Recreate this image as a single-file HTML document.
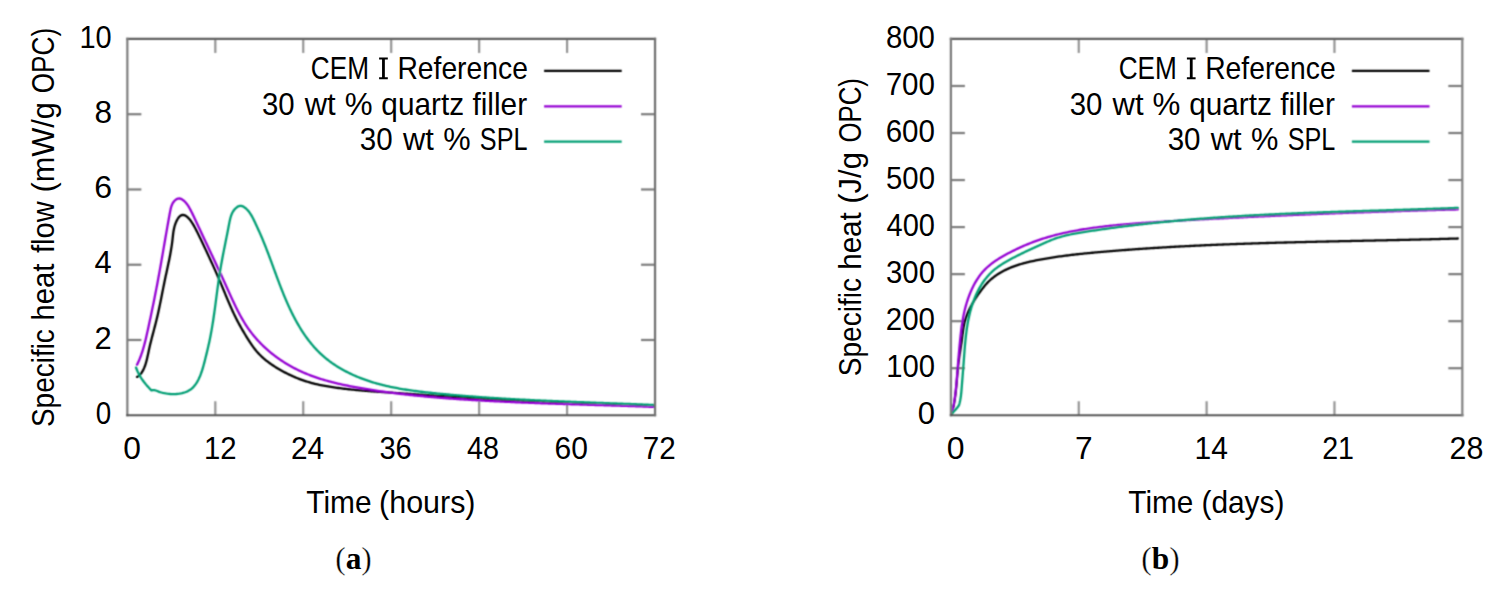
<!DOCTYPE html>
<html><head><meta charset="utf-8"><style>
html,body{margin:0;padding:0;background:#fff;width:1500px;height:602px;overflow:hidden}
svg{display:block}
text{font-family:"Liberation Sans",sans-serif;fill:#000}
.tk{stroke:#949494;stroke-width:2.2}
.bx{fill:none;stroke:#606060;stroke-width:1.8}
.cv{fill:none;stroke-width:2.3;stroke-linejoin:round;stroke-linecap:round}
.lg{stroke-width:2.2}
.cap{font-family:"Liberation Serif",serif;font-size:31.4px}
.pr{stroke:#fff;stroke-width:0.35px}
</style></head><body>
<svg width="1500" height="602" viewBox="0 0 1500 602">
<defs><filter id="bl" filterUnits="userSpaceOnUse" x="0" y="0" width="1500" height="602"><feConvolveMatrix order="3" kernelMatrix="0.0439 0.1217 0.0439 0.1217 0.3377 0.1217 0.0439 0.1217 0.0439" edgeMode="none"/></filter></defs>
<g filter="url(#bl)">
<line x1="215.31" y1="415.25" x2="215.31" y2="401.25" class="tk"/>
<line x1="215.31" y1="38.95" x2="215.31" y2="52.95" class="tk"/>
<line x1="303.25" y1="415.25" x2="303.25" y2="401.25" class="tk"/>
<line x1="303.25" y1="38.95" x2="303.25" y2="52.95" class="tk"/>
<line x1="391.19" y1="415.25" x2="391.19" y2="401.25" class="tk"/>
<line x1="391.19" y1="38.95" x2="391.19" y2="52.95" class="tk"/>
<line x1="479.14" y1="415.25" x2="479.14" y2="401.25" class="tk"/>
<line x1="479.14" y1="38.95" x2="479.14" y2="52.95" class="tk"/>
<line x1="567.08" y1="415.25" x2="567.08" y2="401.25" class="tk"/>
<line x1="567.08" y1="38.95" x2="567.08" y2="52.95" class="tk"/>
<line x1="127.36" y1="339.99" x2="141.36" y2="339.99" class="tk" stroke="#7d7d7d" style="stroke:#7d7d7d"/>
<line x1="655.03" y1="339.99" x2="641.03" y2="339.99" class="tk" style="stroke:#7d7d7d"/>
<line x1="127.36" y1="264.73" x2="141.36" y2="264.73" class="tk" stroke="#7d7d7d" style="stroke:#7d7d7d"/>
<line x1="655.03" y1="264.73" x2="641.03" y2="264.73" class="tk" style="stroke:#7d7d7d"/>
<line x1="127.36" y1="189.47" x2="141.36" y2="189.47" class="tk" stroke="#7d7d7d" style="stroke:#7d7d7d"/>
<line x1="655.03" y1="189.47" x2="641.03" y2="189.47" class="tk" style="stroke:#7d7d7d"/>
<line x1="127.36" y1="114.21" x2="141.36" y2="114.21" class="tk" stroke="#7d7d7d" style="stroke:#7d7d7d"/>
<line x1="655.03" y1="114.21" x2="641.03" y2="114.21" class="tk" style="stroke:#7d7d7d"/>
<path d="M137.00,376.90 L138.31,376.16 L139.49,375.23 L140.54,374.15 L141.46,372.96 L142.27,371.70 L143.00,370.38 L143.66,369.02 L144.26,367.65 L144.82,366.25 L145.32,364.83 L145.79,363.40 L146.21,361.95 L146.60,360.50 L146.97,359.04 L147.31,357.57 L147.63,356.10 L147.95,354.63 L148.26,353.16 L148.56,351.68 L148.87,350.21 L149.19,348.74 L149.53,347.27 L149.87,345.80 L150.22,344.34 L150.57,342.88 L150.94,341.42 L151.31,339.96 L151.68,338.50 L152.06,337.04 L152.44,335.59 L152.83,334.13 L153.21,332.68 L153.60,331.22 L153.99,329.77 L154.37,328.31 L154.75,326.86 L155.13,325.40 L155.51,323.94 L155.88,322.48 L156.25,321.02 L156.61,319.56 L156.96,318.10 L157.30,316.63 L157.64,315.17 L157.98,313.70 L158.30,312.23 L158.63,310.76 L158.94,309.29 L159.26,307.81 L159.57,306.34 L159.87,304.87 L160.17,303.39 L160.47,301.92 L160.77,300.44 L161.07,298.97 L161.36,297.49 L161.66,296.01 L161.95,294.54 L162.24,293.06 L162.53,291.58 L162.83,290.11 L163.12,288.63 L163.41,287.15 L163.71,285.68 L164.01,284.20 L164.31,282.73 L164.61,281.25 L164.92,279.78 L165.23,278.31 L165.54,276.83 L165.86,275.36 L166.18,273.89 L166.50,272.42 L166.82,270.95 L167.13,269.48 L167.45,268.00 L167.77,266.53 L168.08,265.06 L168.39,263.59 L168.70,262.11 L169.01,260.64 L169.31,259.17 L169.60,257.69 L169.89,256.21 L170.17,254.73 L170.44,253.25 L170.71,251.77 L170.97,250.29 L171.21,248.80 L171.45,247.32 L171.68,245.83 L171.90,244.34 L172.10,242.85 L172.29,241.35 L172.47,239.86 L172.63,238.36 L172.80,236.87 L172.96,235.37 L173.14,233.88 L173.34,232.38 L173.57,230.90 L173.85,229.42 L174.16,227.94 L174.53,226.48 L174.96,225.04 L175.45,223.62 L176.01,222.22 L176.64,220.85 L177.34,219.52 L178.13,218.24 L179.04,217.04 L180.10,215.97 L181.36,215.17 L182.82,214.84 L184.29,215.12 L185.64,215.78 L186.87,216.65 L188.00,217.65 L189.04,218.73 L190.02,219.87 L190.94,221.06 L191.80,222.30 L192.62,223.56 L193.39,224.86 L194.12,226.17 L194.84,227.49 L195.54,228.83 L196.24,230.16 L196.92,231.50 L197.61,232.84 L198.28,234.19 L198.95,235.54 L199.62,236.89 L200.27,238.24 L200.93,239.59 L201.58,240.95 L202.23,242.31 L202.87,243.67 L203.52,245.03 L204.16,246.40 L204.79,247.76 L205.43,249.12 L206.07,250.49 L206.71,251.85 L207.34,253.21 L207.98,254.58 L208.61,255.94 L209.25,257.31 L209.88,258.67 L210.51,260.04 L211.14,261.41 L211.77,262.78 L212.39,264.15 L213.02,265.52 L213.64,266.89 L214.26,268.26 L214.87,269.63 L215.48,271.01 L216.10,272.39 L216.70,273.76 L217.31,275.14 L217.91,276.52 L218.51,277.90 L219.10,279.29 L219.69,280.67 L220.28,282.06 L220.86,283.45 L221.44,284.83 L222.02,286.22 L222.60,287.61 L223.17,289.00 L223.75,290.40 L224.32,291.79 L224.90,293.18 L225.47,294.57 L226.05,295.96 L226.63,297.35 L227.21,298.74 L227.80,300.12 L228.39,301.51 L228.98,302.89 L229.58,304.27 L230.18,305.65 L230.79,307.03 L231.40,308.41 L232.02,309.78 L232.65,311.15 L233.28,312.51 L233.92,313.87 L234.57,315.23 L235.23,316.59 L235.90,317.94 L236.57,319.28 L237.26,320.62 L237.96,321.95 L238.67,323.28 L239.39,324.60 L240.11,325.92 L240.85,327.24 L241.59,328.54 L242.34,329.85 L243.10,331.15 L243.87,332.45 L244.64,333.74 L245.41,335.03 L246.20,336.31 L246.98,337.60 L247.78,338.88 L248.58,340.15 L249.39,341.42 L250.21,342.68 L251.05,343.93 L251.91,345.17 L252.78,346.40 L253.67,347.61 L254.58,348.81 L255.52,349.98 L256.48,351.14 L257.47,352.28 L258.48,353.39 L259.52,354.48 L260.59,355.54 L261.67,356.58 L262.78,357.60 L263.91,358.60 L265.06,359.57 L266.23,360.52 L267.41,361.45 L268.61,362.36 L269.83,363.25 L271.06,364.12 L272.30,364.97 L273.55,365.81 L274.81,366.62 L276.09,367.42 L277.37,368.21 L278.67,368.98 L279.97,369.74 L281.28,370.48 L282.59,371.21 L283.92,371.92 L285.25,372.62 L286.59,373.31 L287.94,373.98 L289.29,374.64 L290.65,375.28 L292.02,375.91 L293.40,376.52 L294.78,377.12 L296.17,377.70 L297.56,378.26 L298.96,378.81 L300.37,379.35 L301.79,379.86 L303.21,380.37 L304.63,380.85 L306.06,381.32 L307.50,381.77 L308.94,382.20 L310.39,382.62 L311.84,383.02 L313.29,383.40 L314.75,383.77 L316.22,384.12 L317.68,384.46 L319.15,384.79 L320.63,385.10 L322.10,385.39 L323.58,385.68 L325.06,385.95 L326.54,386.22 L328.03,386.47 L329.51,386.71 L331.00,386.95 L332.49,387.17 L333.98,387.39 L335.47,387.60 L336.96,387.80 L338.45,388.00 L339.94,388.19 L341.44,388.38 L342.93,388.56 L344.43,388.74 L345.92,388.91 L347.42,389.08 L348.91,389.25 L350.41,389.41 L351.91,389.56 L353.41,389.72 L354.90,389.86 L356.40,390.01 L357.90,390.15 L359.40,390.29 L360.90,390.43 L362.40,390.56 L363.90,390.69 L365.40,390.81 L366.90,390.94 L368.40,391.06 L369.90,391.18 L371.40,391.30 L372.90,391.41 L374.40,391.52 L375.90,391.63 L377.41,391.74 L378.91,391.85 L380.41,391.96 L381.91,392.06 L383.41,392.16 L384.91,392.27 L386.42,392.37 L387.92,392.47 L389.42,392.57 L390.92,392.67 L392.42,392.77 L393.93,392.86 L395.43,392.96 L396.93,393.06 L398.43,393.16 L399.93,393.26 L401.44,393.36 L402.94,393.46 L404.44,393.56 L405.94,393.66 L407.44,393.76 L408.95,393.86 L410.45,393.96 L411.95,394.06 L413.45,394.16 L414.95,394.26 L416.46,394.36 L417.96,394.46 L419.46,394.57 L420.96,394.67 L422.46,394.77 L423.97,394.87 L425.47,394.97 L426.97,395.08 L428.47,395.18 L429.97,395.28 L431.48,395.38 L432.98,395.48 L434.48,395.58 L435.98,395.68 L437.48,395.79 L438.99,395.89 L440.49,395.99 L441.99,396.09 L443.49,396.19 L444.99,396.29 L446.50,396.39 L448.00,396.49 L449.50,396.59 L451.00,396.69 L452.50,396.78 L454.01,396.88 L455.51,396.98 L457.01,397.08 L458.51,397.17 L460.01,397.27 L461.52,397.37 L463.02,397.46 L464.52,397.56 L466.02,397.65 L467.53,397.74 L469.03,397.84 L470.53,397.93 L472.03,398.02 L473.54,398.11 L475.04,398.20 L476.54,398.29 L478.04,398.38 L479.55,398.47 L481.05,398.56 L482.55,398.65 L484.06,398.74 L485.56,398.83 L487.06,398.91 L488.56,399.00 L490.07,399.08 L491.57,399.17 L493.07,399.26 L494.58,399.34 L496.08,399.42 L497.58,399.51 L499.09,399.59 L500.59,399.67 L502.09,399.75 L503.59,399.84 L505.10,399.92 L506.60,400.00 L508.10,400.08 L509.61,400.16 L511.11,400.24 L512.61,400.32 L514.12,400.39 L515.62,400.47 L517.12,400.55 L518.63,400.63 L520.13,400.70 L521.63,400.78 L523.14,400.86 L524.64,400.93 L526.14,401.01 L527.65,401.08 L529.15,401.15 L530.66,401.23 L532.16,401.30 L533.66,401.37 L535.17,401.44 L536.67,401.52 L538.17,401.59 L539.68,401.66 L541.18,401.73 L542.68,401.80 L544.19,401.87 L545.69,401.94 L547.20,402.01 L548.70,402.08 L550.20,402.14 L551.71,402.21 L553.21,402.28 L554.71,402.35 L556.22,402.41 L557.72,402.48 L559.23,402.54 L560.73,402.61 L562.23,402.67 L563.74,402.74 L565.24,402.80 L566.75,402.87 L568.25,402.93 L569.75,402.99 L571.26,403.06 L572.76,403.12 L574.27,403.18 L575.77,403.24 L577.27,403.30 L578.78,403.36 L580.28,403.42 L581.79,403.48 L583.29,403.54 L584.80,403.60 L586.30,403.66 L587.80,403.72 L589.31,403.78 L590.81,403.84 L592.32,403.90 L593.82,403.95 L595.33,404.01 L596.83,404.07 L598.33,404.12 L599.84,404.18 L601.34,404.23 L602.85,404.29 L604.35,404.35 L605.86,404.40 L607.36,404.45 L608.86,404.51 L610.37,404.56 L611.87,404.62 L613.38,404.67 L614.88,404.72 L616.39,404.78 L617.89,404.83 L619.40,404.88 L620.90,404.93 L622.40,404.98 L623.91,405.03 L625.41,405.08 L626.92,405.14 L628.42,405.19 L629.93,405.24 L631.43,405.29 L632.94,405.33 L634.44,405.38 L635.94,405.43 L637.45,405.48 L638.95,405.53 L640.46,405.58 L641.96,405.63 L643.47,405.67 L644.97,405.72 L646.48,405.77 L647.98,405.82 L649.49,405.86 L650.99,405.91 L652.50,405.95 L654.00,406.00" stroke="#000000" class="cv"/>
<path d="M137.00,364.80 L137.66,363.45 L138.30,362.08 L138.91,360.71 L139.49,359.32 L140.06,357.92 L140.60,356.52 L141.12,355.11 L141.61,353.69 L142.09,352.26 L142.56,350.83 L143.00,349.39 L143.43,347.95 L143.84,346.50 L144.24,345.05 L144.63,343.59 L145.00,342.14 L145.36,340.68 L145.72,339.21 L146.07,337.75 L146.41,336.28 L146.74,334.81 L147.07,333.35 L147.39,331.88 L147.71,330.41 L148.04,328.94 L148.36,327.46 L148.68,325.99 L148.99,324.52 L149.31,323.05 L149.63,321.58 L149.94,320.11 L150.26,318.64 L150.57,317.16 L150.88,315.69 L151.19,314.22 L151.50,312.75 L151.81,311.27 L152.11,309.80 L152.42,308.32 L152.72,306.85 L153.03,305.38 L153.33,303.90 L153.63,302.43 L153.93,300.95 L154.23,299.48 L154.52,298.00 L154.82,296.52 L155.11,295.05 L155.40,293.57 L155.69,292.09 L155.98,290.62 L156.27,289.14 L156.55,287.66 L156.84,286.18 L157.12,284.71 L157.40,283.23 L157.68,281.75 L157.95,280.27 L158.23,278.79 L158.50,277.31 L158.78,275.83 L159.05,274.35 L159.31,272.87 L159.58,271.39 L159.85,269.90 L160.11,268.42 L160.38,266.94 L160.64,265.46 L160.90,263.98 L161.16,262.49 L161.42,261.01 L161.68,259.53 L161.94,258.05 L162.20,256.56 L162.46,255.08 L162.71,253.60 L162.97,252.11 L163.22,250.63 L163.48,249.15 L163.74,247.66 L163.99,246.18 L164.25,244.70 L164.50,243.21 L164.76,241.73 L165.02,240.25 L165.27,238.76 L165.53,237.28 L165.79,235.80 L166.04,234.32 L166.30,232.83 L166.56,231.35 L166.82,229.87 L167.08,228.39 L167.34,226.90 L167.60,225.42 L167.87,223.94 L168.13,222.46 L168.40,220.98 L168.67,219.49 L168.93,218.01 L169.20,216.53 L169.48,215.05 L169.75,213.57 L170.02,212.09 L170.30,210.61 L170.61,209.14 L170.96,207.68 L171.40,206.24 L171.94,204.83 L172.60,203.48 L173.40,202.20 L174.32,201.02 L175.39,199.96 L176.62,199.09 L178.02,198.54 L179.51,198.48 L180.96,198.89 L182.29,199.59 L183.51,200.47 L184.63,201.47 L185.68,202.55 L186.65,203.70 L187.54,204.91 L188.37,206.17 L189.14,207.46 L189.88,208.77 L190.59,210.10 L191.28,211.44 L191.96,212.78 L192.62,214.13 L193.27,215.49 L193.91,216.85 L194.55,218.21 L195.19,219.58 L195.83,220.94 L196.47,222.30 L197.11,223.67 L197.75,225.03 L198.39,226.39 L199.03,227.75 L199.67,229.11 L200.31,230.48 L200.95,231.84 L201.59,233.20 L202.23,234.56 L202.88,235.92 L203.52,237.28 L204.16,238.64 L204.80,240.01 L205.44,241.37 L206.09,242.73 L206.73,244.09 L207.37,245.45 L208.01,246.81 L208.65,248.17 L209.29,249.54 L209.94,250.90 L210.58,252.26 L211.22,253.62 L211.86,254.98 L212.50,256.35 L213.13,257.71 L213.77,259.07 L214.41,260.44 L215.05,261.80 L215.68,263.16 L216.32,264.53 L216.96,265.89 L217.59,267.26 L218.22,268.62 L218.86,269.99 L219.49,271.35 L220.12,272.72 L220.75,274.09 L221.38,275.45 L222.01,276.82 L222.63,278.19 L223.26,279.56 L223.88,280.93 L224.51,282.30 L225.13,283.67 L225.75,285.04 L226.37,286.41 L226.99,287.78 L227.61,289.16 L228.23,290.53 L228.84,291.90 L229.46,293.27 L230.08,294.64 L230.70,296.02 L231.33,297.38 L231.96,298.75 L232.59,300.12 L233.23,301.48 L233.87,302.84 L234.51,304.20 L235.17,305.56 L235.83,306.91 L236.49,308.26 L237.17,309.61 L237.85,310.95 L238.54,312.29 L239.24,313.62 L239.96,314.94 L240.68,316.26 L241.41,317.58 L242.16,318.88 L242.92,320.18 L243.69,321.48 L244.47,322.76 L245.27,324.04 L246.09,325.30 L246.92,326.56 L247.76,327.81 L248.62,329.04 L249.50,330.26 L250.39,331.48 L251.30,332.68 L252.22,333.86 L253.16,335.04 L254.12,336.20 L255.09,337.35 L256.07,338.49 L257.07,339.61 L258.09,340.73 L259.12,341.83 L260.16,342.91 L261.21,343.99 L262.28,345.05 L263.36,346.09 L264.46,347.13 L265.56,348.15 L266.68,349.16 L267.81,350.15 L268.95,351.13 L270.10,352.10 L271.27,353.05 L272.44,354.00 L273.63,354.92 L274.82,355.84 L276.03,356.74 L277.24,357.63 L278.47,358.50 L279.70,359.36 L280.95,360.21 L282.20,361.04 L283.47,361.86 L284.74,362.66 L286.02,363.45 L287.31,364.23 L288.60,365.00 L289.91,365.75 L291.22,366.48 L292.54,367.21 L293.87,367.91 L295.20,368.61 L296.55,369.29 L297.90,369.95 L299.25,370.61 L300.62,371.24 L301.99,371.87 L303.36,372.48 L304.74,373.07 L306.13,373.66 L307.53,374.23 L308.92,374.78 L310.33,375.33 L311.74,375.86 L313.15,376.37 L314.57,376.88 L315.99,377.37 L317.42,377.86 L318.84,378.33 L320.28,378.79 L321.71,379.23 L323.15,379.67 L324.60,380.10 L326.04,380.52 L327.49,380.92 L328.94,381.32 L330.40,381.71 L331.85,382.09 L333.31,382.46 L334.77,382.82 L336.24,383.18 L337.70,383.53 L339.17,383.86 L340.64,384.20 L342.11,384.52 L343.58,384.84 L345.05,385.15 L346.52,385.46 L348.00,385.75 L349.48,386.05 L350.95,386.34 L352.43,386.62 L353.91,386.90 L355.39,387.17 L356.87,387.44 L358.35,387.71 L359.83,387.97 L361.32,388.23 L362.80,388.48 L364.28,388.73 L365.77,388.98 L367.25,389.23 L368.74,389.47 L370.23,389.71 L371.71,389.94 L373.20,390.17 L374.69,390.40 L376.18,390.63 L377.66,390.85 L379.15,391.07 L380.64,391.28 L382.13,391.50 L383.62,391.71 L385.11,391.91 L386.61,392.12 L388.10,392.32 L389.59,392.52 L391.08,392.71 L392.57,392.91 L394.07,393.10 L395.56,393.28 L397.05,393.47 L398.55,393.65 L400.04,393.83 L401.54,394.01 L403.03,394.18 L404.53,394.35 L406.02,394.52 L407.52,394.69 L409.02,394.85 L410.51,395.02 L412.01,395.18 L413.51,395.33 L415.00,395.49 L416.50,395.64 L418.00,395.79 L419.50,395.94 L420.99,396.08 L422.49,396.23 L423.99,396.37 L425.49,396.51 L426.99,396.65 L428.49,396.78 L429.99,396.92 L431.49,397.05 L432.98,397.18 L434.48,397.31 L435.98,397.43 L437.48,397.56 L438.98,397.68 L440.48,397.80 L441.99,397.92 L443.49,398.04 L444.99,398.15 L446.49,398.27 L447.99,398.38 L449.49,398.49 L450.99,398.60 L452.49,398.71 L453.99,398.81 L455.49,398.92 L457.00,399.02 L458.50,399.13 L460.00,399.23 L461.50,399.33 L463.00,399.43 L464.50,399.52 L466.01,399.62 L467.51,399.72 L469.01,399.81 L470.51,399.90 L472.02,399.99 L473.52,400.09 L475.02,400.18 L476.52,400.26 L478.03,400.35 L479.53,400.44 L481.03,400.52 L482.53,400.61 L484.04,400.69 L485.54,400.77 L487.04,400.85 L488.55,400.93 L490.05,401.01 L491.55,401.09 L493.05,401.17 L494.56,401.24 L496.06,401.32 L497.56,401.40 L499.07,401.47 L500.57,401.54 L502.07,401.61 L503.58,401.68 L505.08,401.76 L506.59,401.82 L508.09,401.89 L509.59,401.96 L511.10,402.03 L512.60,402.09 L514.10,402.16 L515.61,402.23 L517.11,402.29 L518.61,402.35 L520.12,402.42 L521.62,402.48 L523.13,402.54 L524.63,402.60 L526.13,402.66 L527.64,402.72 L529.14,402.78 L530.65,402.84 L532.15,402.89 L533.65,402.95 L535.16,403.01 L536.66,403.06 L538.17,403.12 L539.67,403.17 L541.17,403.23 L542.68,403.28 L544.18,403.34 L545.69,403.39 L547.19,403.44 L548.70,403.50 L550.20,403.55 L551.70,403.60 L553.21,403.65 L554.71,403.70 L556.22,403.75 L557.72,403.80 L559.23,403.85 L560.73,403.90 L562.23,403.95 L563.74,404.00 L565.24,404.05 L566.75,404.09 L568.25,404.14 L569.76,404.19 L571.26,404.24 L572.76,404.28 L574.27,404.33 L575.77,404.38 L577.28,404.42 L578.78,404.47 L580.29,404.52 L581.79,404.56 L583.30,404.61 L584.80,404.65 L586.30,404.70 L587.81,404.75 L589.31,404.79 L590.82,404.84 L592.32,404.88 L593.83,404.93 L595.33,404.98 L596.84,405.02 L598.34,405.07 L599.84,405.11 L601.35,405.16 L602.85,405.20 L604.36,405.25 L605.86,405.30 L607.37,405.34 L608.87,405.39 L610.38,405.43 L611.88,405.48 L613.38,405.53 L614.89,405.58 L616.39,405.62 L617.90,405.67 L619.40,405.72 L620.91,405.76 L622.41,405.81 L623.92,405.86 L625.42,405.91 L626.92,405.96 L628.43,406.01 L629.93,406.06 L631.44,406.11 L632.94,406.16 L634.45,406.21 L635.95,406.26 L637.45,406.31 L638.96,406.36 L640.46,406.41 L641.97,406.46 L643.47,406.52 L644.98,406.57 L646.48,406.62 L647.98,406.68 L649.49,406.73 L650.99,406.79 L652.50,406.84 L654.00,406.90" stroke="#9400d3" class="cv"/>
<path d="M136.00,367.50 L136.57,369.03 L137.19,370.55 L137.87,372.04 L138.59,373.51 L139.36,374.95 L140.18,376.37 L141.04,377.77 L141.93,379.14 L142.87,380.48 L143.83,381.80 L144.83,383.10 L145.87,384.37 L146.92,385.62 L148.01,386.85 L149.12,388.05 L150.25,389.24 L151.40,390.40 L151.40,390.40 L152.85,390.04 L154.35,390.12 L155.80,390.51 L157.21,391.03 L158.61,391.57 L160.03,392.06 L161.47,392.50 L162.93,392.88 L164.40,393.20 L165.87,393.47 L167.36,393.69 L168.86,393.86 L170.35,393.98 L171.86,394.05 L173.36,394.08 L174.86,394.06 L176.36,393.99 L177.86,393.86 L179.35,393.68 L180.84,393.43 L182.31,393.12 L183.76,392.73 L185.19,392.27 L186.59,391.72 L187.95,391.09 L189.27,390.36 L190.53,389.54 L191.71,388.61 L192.82,387.60 L193.86,386.51 L194.83,385.36 L195.72,384.16 L196.56,382.91 L197.34,381.62 L198.06,380.30 L198.74,378.96 L199.37,377.60 L199.97,376.22 L200.53,374.82 L201.06,373.42 L201.57,372.00 L202.04,370.57 L202.49,369.14 L202.92,367.70 L203.34,366.25 L203.74,364.80 L204.12,363.35 L204.50,361.90 L204.87,360.44 L205.24,358.98 L205.60,357.52 L205.97,356.06 L206.33,354.60 L206.69,353.14 L207.05,351.68 L207.40,350.22 L207.74,348.76 L208.09,347.30 L208.42,345.83 L208.75,344.36 L209.08,342.90 L209.39,341.43 L209.70,339.95 L210.01,338.48 L210.30,337.01 L210.59,335.53 L210.87,334.05 L211.14,332.58 L211.41,331.10 L211.67,329.62 L211.93,328.14 L212.18,326.65 L212.42,325.17 L212.66,323.68 L212.90,322.20 L213.13,320.71 L213.35,319.23 L213.57,317.74 L213.79,316.25 L214.01,314.77 L214.22,313.28 L214.43,311.79 L214.64,310.30 L214.84,308.81 L215.04,307.32 L215.24,305.83 L215.44,304.34 L215.64,302.85 L215.83,301.36 L216.03,299.87 L216.23,298.38 L216.42,296.89 L216.62,295.40 L216.82,293.90 L217.01,292.41 L217.21,290.92 L217.41,289.43 L217.61,287.94 L217.81,286.45 L218.02,284.97 L218.23,283.48 L218.44,281.99 L218.65,280.50 L218.87,279.01 L219.09,277.52 L219.31,276.04 L219.54,274.55 L219.77,273.07 L220.01,271.58 L220.25,270.10 L220.50,268.61 L220.75,267.13 L221.01,265.65 L221.27,264.17 L221.54,262.69 L221.81,261.21 L222.08,259.73 L222.36,258.26 L222.64,256.78 L222.93,255.30 L223.21,253.83 L223.50,252.35 L223.79,250.88 L224.08,249.40 L224.38,247.93 L224.67,246.45 L224.97,244.98 L225.26,243.50 L225.56,242.03 L225.86,240.56 L226.15,239.08 L226.45,237.61 L226.74,236.13 L227.04,234.66 L227.33,233.19 L227.62,231.71 L227.91,230.24 L228.20,228.76 L228.48,227.28 L228.77,225.81 L229.05,224.33 L229.33,222.85 L229.62,221.38 L229.94,219.91 L230.29,218.45 L230.69,217.00 L231.15,215.57 L231.69,214.17 L232.32,212.80 L233.06,211.49 L233.90,210.24 L234.86,209.09 L235.93,208.03 L237.10,207.09 L238.39,206.33 L239.82,205.86 L241.31,205.88 L242.73,206.36 L244.04,207.10 L245.26,207.97 L246.41,208.95 L247.48,210.00 L248.48,211.13 L249.40,212.31 L250.27,213.54 L251.07,214.81 L251.83,216.11 L252.55,217.43 L253.23,218.77 L253.89,220.12 L254.53,221.48 L255.17,222.84 L255.81,224.20 L256.44,225.56 L257.08,226.93 L257.71,228.29 L258.34,229.66 L258.96,231.03 L259.57,232.40 L260.18,233.77 L260.79,235.15 L261.38,236.53 L261.97,237.92 L262.55,239.30 L263.13,240.69 L263.70,242.08 L264.26,243.47 L264.82,244.87 L265.38,246.27 L265.93,247.66 L266.48,249.07 L267.02,250.47 L267.56,251.87 L268.10,253.28 L268.63,254.68 L269.16,256.09 L269.69,257.50 L270.21,258.90 L270.74,260.31 L271.26,261.72 L271.78,263.13 L272.30,264.55 L272.82,265.96 L273.33,267.37 L273.85,268.78 L274.37,270.19 L274.89,271.60 L275.41,273.01 L275.93,274.42 L276.45,275.83 L276.97,277.24 L277.50,278.65 L278.03,280.06 L278.56,281.47 L279.09,282.87 L279.62,284.28 L280.16,285.68 L280.71,287.08 L281.25,288.48 L281.80,289.88 L282.36,291.28 L282.92,292.67 L283.48,294.07 L284.05,295.46 L284.63,296.85 L285.21,298.23 L285.80,299.62 L286.39,301.00 L286.99,302.38 L287.60,303.75 L288.21,305.13 L288.84,306.49 L289.47,307.86 L290.10,309.22 L290.75,310.58 L291.41,311.93 L292.07,313.28 L292.74,314.62 L293.43,315.96 L294.12,317.30 L294.82,318.63 L295.53,319.95 L296.25,321.27 L296.99,322.58 L297.73,323.89 L298.48,325.19 L299.25,326.48 L300.03,327.77 L300.82,329.05 L301.62,330.32 L302.43,331.59 L303.26,332.84 L304.09,334.09 L304.95,335.33 L305.81,336.56 L306.69,337.78 L307.58,338.99 L308.49,340.19 L309.41,341.38 L310.34,342.56 L311.29,343.73 L312.25,344.88 L313.23,346.02 L314.22,347.15 L315.23,348.27 L316.25,349.37 L317.29,350.46 L318.34,351.53 L319.41,352.59 L320.50,353.63 L321.60,354.65 L322.71,355.66 L323.84,356.65 L324.99,357.63 L326.15,358.58 L327.32,359.52 L328.51,360.44 L329.71,361.35 L330.93,362.23 L332.15,363.11 L333.39,363.96 L334.64,364.80 L335.89,365.62 L337.16,366.43 L338.44,367.22 L339.73,367.99 L341.03,368.75 L342.33,369.50 L343.65,370.23 L344.97,370.94 L346.30,371.64 L347.64,372.33 L348.99,373.00 L350.34,373.65 L351.70,374.29 L353.06,374.92 L354.44,375.53 L355.82,376.13 L357.20,376.72 L358.59,377.29 L359.99,377.85 L361.39,378.40 L362.79,378.93 L364.21,379.45 L365.62,379.95 L367.04,380.45 L368.47,380.93 L369.89,381.40 L371.33,381.85 L372.76,382.30 L374.20,382.73 L375.65,383.15 L377.09,383.56 L378.54,383.96 L379.99,384.35 L381.45,384.72 L382.91,385.09 L384.37,385.45 L385.83,385.79 L387.30,386.13 L388.76,386.46 L390.23,386.78 L391.70,387.09 L393.18,387.39 L394.65,387.68 L396.13,387.96 L397.61,388.24 L399.09,388.51 L400.57,388.77 L402.05,389.02 L403.53,389.27 L405.02,389.51 L406.50,389.74 L407.99,389.97 L409.48,390.19 L410.96,390.40 L412.45,390.61 L413.94,390.81 L415.43,391.01 L416.92,391.20 L418.41,391.39 L419.91,391.58 L421.40,391.76 L422.89,391.93 L424.39,392.10 L425.88,392.27 L427.37,392.44 L428.87,392.60 L430.36,392.76 L431.86,392.92 L433.35,393.07 L434.85,393.23 L436.35,393.38 L437.84,393.53 L439.34,393.67 L440.83,393.82 L442.33,393.96 L443.83,394.11 L445.32,394.25 L446.82,394.39 L448.32,394.52 L449.82,394.66 L451.31,394.79 L452.81,394.93 L454.31,395.06 L455.81,395.19 L457.30,395.32 L458.80,395.44 L460.30,395.57 L461.80,395.69 L463.30,395.81 L464.80,395.94 L466.30,396.06 L467.79,396.17 L469.29,396.29 L470.79,396.41 L472.29,396.52 L473.79,396.63 L475.29,396.74 L476.79,396.85 L478.29,396.96 L479.79,397.07 L481.29,397.18 L482.79,397.28 L484.29,397.38 L485.79,397.49 L487.29,397.59 L488.79,397.69 L490.29,397.79 L491.79,397.89 L493.29,397.98 L494.79,398.08 L496.29,398.17 L497.79,398.27 L499.29,398.36 L500.79,398.45 L502.29,398.54 L503.79,398.63 L505.29,398.72 L506.79,398.80 L508.30,398.89 L509.80,398.97 L511.30,399.06 L512.80,399.14 L514.30,399.22 L515.80,399.30 L517.30,399.38 L518.80,399.46 L520.31,399.54 L521.81,399.62 L523.31,399.70 L524.81,399.77 L526.31,399.85 L527.81,399.92 L529.31,400.00 L530.82,400.07 L532.32,400.14 L533.82,400.21 L535.32,400.28 L536.82,400.35 L538.33,400.42 L539.83,400.49 L541.33,400.56 L542.83,400.63 L544.33,400.70 L545.83,400.76 L547.34,400.83 L548.84,400.89 L550.34,400.96 L551.84,401.02 L553.35,401.09 L554.85,401.15 L556.35,401.21 L557.85,401.27 L559.35,401.33 L560.86,401.40 L562.36,401.46 L563.86,401.52 L565.36,401.58 L566.86,401.64 L568.37,401.70 L569.87,401.75 L571.37,401.81 L572.87,401.87 L574.38,401.93 L575.88,401.99 L577.38,402.05 L578.88,402.10 L580.39,402.16 L581.89,402.22 L583.39,402.27 L584.89,402.33 L586.40,402.39 L587.90,402.44 L589.40,402.50 L590.90,402.55 L592.41,402.61 L593.91,402.66 L595.41,402.72 L596.91,402.78 L598.41,402.83 L599.92,402.89 L601.42,402.94 L602.92,403.00 L604.42,403.05 L605.93,403.11 L607.43,403.16 L608.93,403.22 L610.43,403.28 L611.94,403.33 L613.44,403.39 L614.94,403.44 L616.44,403.50 L617.95,403.56 L619.45,403.61 L620.95,403.67 L622.45,403.73 L623.96,403.78 L625.46,403.84 L626.96,403.90 L628.46,403.96 L629.97,404.01 L631.47,404.07 L632.97,404.13 L634.47,404.19 L635.97,404.25 L637.48,404.31 L638.98,404.37 L640.48,404.43 L641.98,404.49 L643.49,404.56 L644.99,404.62 L646.49,404.68 L647.99,404.74 L649.49,404.81 L651.00,404.87 L652.50,404.93 L654.00,405.00" stroke="#009e73" class="cv"/>
<line x1="127.36" y1="38.95" x2="655.03" y2="38.95" stroke="#5e5e5e" stroke-width="2.2" stroke-linecap="square"/>
<line x1="127.36" y1="38.95" x2="127.36" y2="415.25" stroke="#7c7c7c" stroke-width="2.2" stroke-linecap="square"/>
<line x1="127.36" y1="415.25" x2="655.03" y2="415.25" stroke="#555555" stroke-width="2.2" stroke-linecap="square"/>
<line x1="655.03" y1="38.95" x2="655.03" y2="415.25" stroke="#6f6f6f" stroke-width="2.2" stroke-linecap="square"/>
<line x1="544.1" y1="70.8" x2="621.7" y2="70.8" stroke="#000000" class="lg"/>
<line x1="544.1" y1="106.3" x2="621.7" y2="106.3" stroke="#9400d3" class="lg"/>
<line x1="544.1" y1="141.6" x2="621.7" y2="141.6" stroke="#009e73" class="lg"/>
<line x1="1078.75" y1="415.25" x2="1078.75" y2="401.25" class="tk"/>
<line x1="1078.75" y1="38.95" x2="1078.75" y2="52.95" class="tk"/>
<line x1="1206.61" y1="415.25" x2="1206.61" y2="401.25" class="tk"/>
<line x1="1206.61" y1="38.95" x2="1206.61" y2="52.95" class="tk"/>
<line x1="1334.46" y1="415.25" x2="1334.46" y2="401.25" class="tk"/>
<line x1="1334.46" y1="38.95" x2="1334.46" y2="52.95" class="tk"/>
<line x1="950.9" y1="368.21" x2="964.9" y2="368.21" class="tk" stroke="#7d7d7d" style="stroke:#7d7d7d"/>
<line x1="1462.32" y1="368.21" x2="1448.32" y2="368.21" class="tk" style="stroke:#7d7d7d"/>
<line x1="950.9" y1="321.18" x2="964.9" y2="321.18" class="tk" stroke="#7d7d7d" style="stroke:#7d7d7d"/>
<line x1="1462.32" y1="321.18" x2="1448.32" y2="321.18" class="tk" style="stroke:#7d7d7d"/>
<line x1="950.9" y1="274.14" x2="964.9" y2="274.14" class="tk" stroke="#7d7d7d" style="stroke:#7d7d7d"/>
<line x1="1462.32" y1="274.14" x2="1448.32" y2="274.14" class="tk" style="stroke:#7d7d7d"/>
<line x1="950.9" y1="227.10" x2="964.9" y2="227.10" class="tk" stroke="#7d7d7d" style="stroke:#7d7d7d"/>
<line x1="1462.32" y1="227.10" x2="1448.32" y2="227.10" class="tk" style="stroke:#7d7d7d"/>
<line x1="950.9" y1="180.06" x2="964.9" y2="180.06" class="tk" stroke="#7d7d7d" style="stroke:#7d7d7d"/>
<line x1="1462.32" y1="180.06" x2="1448.32" y2="180.06" class="tk" style="stroke:#7d7d7d"/>
<line x1="950.9" y1="133.02" x2="964.9" y2="133.02" class="tk" stroke="#7d7d7d" style="stroke:#7d7d7d"/>
<line x1="1462.32" y1="133.02" x2="1448.32" y2="133.02" class="tk" style="stroke:#7d7d7d"/>
<line x1="950.9" y1="85.99" x2="964.9" y2="85.99" class="tk" stroke="#7d7d7d" style="stroke:#7d7d7d"/>
<line x1="1462.32" y1="85.99" x2="1448.32" y2="85.99" class="tk" style="stroke:#7d7d7d"/>
<path d="M951.70,413.90 L952.10,412.45 L952.48,410.99 L952.83,409.53 L953.17,408.06 L953.48,406.59 L953.78,405.11 L954.06,403.63 L954.32,402.15 L954.57,400.67 L954.80,399.18 L955.02,397.69 L955.23,396.20 L955.42,394.71 L955.60,393.21 L955.78,391.72 L955.94,390.22 L956.09,388.72 L956.24,387.22 L956.38,385.73 L956.52,384.23 L956.65,382.73 L956.78,381.23 L956.91,379.73 L957.04,378.23 L957.17,376.73 L957.29,375.23 L957.42,373.73 L957.55,372.23 L957.69,370.73 L957.83,369.23 L957.97,367.73 L958.13,366.23 L958.29,364.74 L958.46,363.24 L958.63,361.75 L958.82,360.25 L959.02,358.76 L959.23,357.27 L959.45,355.78 L959.67,354.29 L959.90,352.80 L960.14,351.32 L960.37,349.83 L960.60,348.34 L960.84,346.86 L961.07,345.37 L961.29,343.88 L961.51,342.39 L961.73,340.90 L961.93,339.41 L962.12,337.92 L962.31,336.42 L962.50,334.93 L962.69,333.44 L962.89,331.94 L963.10,330.45 L963.32,328.96 L963.56,327.48 L963.83,326.00 L964.12,324.52 L964.44,323.05 L964.80,321.59 L965.20,320.14 L965.63,318.69 L966.10,317.26 L966.61,315.85 L967.15,314.44 L967.71,313.05 L968.31,311.66 L968.93,310.29 L969.58,308.94 L970.26,307.59 L970.96,306.26 L971.67,304.93 L972.41,303.62 L973.17,302.32 L973.94,301.03 L974.73,299.75 L975.54,298.48 L976.36,297.21 L977.19,295.96 L978.03,294.71 L978.88,293.47 L979.75,292.24 L980.62,291.01 L981.52,289.80 L982.43,288.60 L983.36,287.42 L984.31,286.25 L985.29,285.11 L986.28,283.98 L987.31,282.88 L988.36,281.80 L989.44,280.75 L990.55,279.73 L991.68,278.74 L992.85,277.79 L994.04,276.87 L995.25,275.97 L996.48,275.11 L997.73,274.27 L999.01,273.47 L1000.29,272.69 L1001.60,271.94 L1002.92,271.22 L1004.25,270.52 L1005.60,269.85 L1006.96,269.20 L1008.33,268.58 L1009.71,267.98 L1011.10,267.41 L1012.50,266.86 L1013.91,266.33 L1015.33,265.82 L1016.75,265.33 L1018.19,264.86 L1019.62,264.41 L1021.06,263.98 L1022.51,263.57 L1023.96,263.17 L1025.42,262.78 L1026.88,262.42 L1028.34,262.06 L1029.81,261.72 L1031.27,261.39 L1032.75,261.07 L1034.22,260.76 L1035.69,260.45 L1037.17,260.16 L1038.65,259.88 L1040.13,259.60 L1041.61,259.33 L1043.09,259.06 L1044.57,258.80 L1046.06,258.54 L1047.54,258.29 L1049.03,258.05 L1050.51,257.81 L1052.00,257.57 L1053.49,257.34 L1054.98,257.12 L1056.46,256.90 L1057.95,256.68 L1059.45,256.47 L1060.94,256.27 L1062.43,256.07 L1063.92,255.87 L1065.41,255.67 L1066.91,255.49 L1068.40,255.30 L1069.89,255.12 L1071.39,254.94 L1072.88,254.76 L1074.38,254.59 L1075.88,254.42 L1077.37,254.26 L1078.87,254.10 L1080.37,253.94 L1081.86,253.78 L1083.36,253.63 L1084.86,253.47 L1086.36,253.33 L1087.85,253.18 L1089.35,253.03 L1090.85,252.89 L1092.35,252.75 L1093.85,252.61 L1095.35,252.47 L1096.85,252.34 L1098.35,252.20 L1099.85,252.07 L1101.35,251.94 L1102.85,251.81 L1104.35,251.68 L1105.85,251.55 L1107.35,251.42 L1108.85,251.30 L1110.35,251.17 L1111.85,251.05 L1113.35,250.93 L1114.85,250.80 L1116.35,250.68 L1117.85,250.57 L1119.35,250.45 L1120.85,250.33 L1122.35,250.21 L1123.85,250.10 L1125.35,249.98 L1126.85,249.87 L1128.35,249.76 L1129.86,249.65 L1131.36,249.54 L1132.86,249.43 L1134.36,249.32 L1135.86,249.21 L1137.36,249.11 L1138.86,249.00 L1140.37,248.90 L1141.87,248.80 L1143.37,248.69 L1144.87,248.59 L1146.37,248.49 L1147.88,248.39 L1149.38,248.30 L1150.88,248.20 L1152.38,248.10 L1153.89,248.01 L1155.39,247.91 L1156.89,247.82 L1158.39,247.73 L1159.90,247.64 L1161.40,247.55 L1162.90,247.46 L1164.40,247.37 L1165.91,247.28 L1167.41,247.19 L1168.91,247.10 L1170.42,247.02 L1171.92,246.93 L1173.42,246.85 L1174.92,246.77 L1176.43,246.69 L1177.93,246.60 L1179.43,246.52 L1180.94,246.44 L1182.44,246.37 L1183.94,246.29 L1185.45,246.21 L1186.95,246.13 L1188.45,246.06 L1189.96,245.98 L1191.46,245.91 L1192.96,245.84 L1194.47,245.76 L1195.97,245.69 L1197.48,245.62 L1198.98,245.55 L1200.48,245.48 L1201.99,245.41 L1203.49,245.34 L1204.99,245.27 L1206.50,245.21 L1208.00,245.14 L1209.51,245.08 L1211.01,245.01 L1212.51,244.95 L1214.02,244.88 L1215.52,244.82 L1217.03,244.76 L1218.53,244.70 L1220.03,244.63 L1221.54,244.57 L1223.04,244.51 L1224.55,244.46 L1226.05,244.40 L1227.56,244.34 L1229.06,244.28 L1230.56,244.22 L1232.07,244.17 L1233.57,244.11 L1235.08,244.06 L1236.58,244.00 L1238.09,243.95 L1239.59,243.90 L1241.09,243.84 L1242.60,243.79 L1244.10,243.74 L1245.61,243.69 L1247.11,243.64 L1248.62,243.59 L1250.12,243.54 L1251.63,243.49 L1253.13,243.44 L1254.64,243.39 L1256.14,243.34 L1257.64,243.30 L1259.15,243.25 L1260.65,243.20 L1262.16,243.16 L1263.66,243.11 L1265.17,243.07 L1266.67,243.02 L1268.18,242.98 L1269.68,242.93 L1271.19,242.89 L1272.69,242.85 L1274.20,242.81 L1275.70,242.76 L1277.21,242.72 L1278.71,242.68 L1280.22,242.64 L1281.72,242.60 L1283.23,242.56 L1284.73,242.52 L1286.23,242.48 L1287.74,242.44 L1289.24,242.40 L1290.75,242.36 L1292.25,242.32 L1293.76,242.28 L1295.26,242.25 L1296.77,242.21 L1298.27,242.17 L1299.78,242.14 L1301.28,242.10 L1302.79,242.06 L1304.29,242.03 L1305.80,241.99 L1307.30,241.96 L1308.81,241.92 L1310.31,241.88 L1311.82,241.85 L1313.32,241.82 L1314.83,241.78 L1316.33,241.75 L1317.84,241.71 L1319.34,241.68 L1320.85,241.64 L1322.35,241.61 L1323.86,241.58 L1325.36,241.54 L1326.87,241.51 L1328.37,241.48 L1329.88,241.45 L1331.38,241.41 L1332.89,241.38 L1334.39,241.35 L1335.90,241.32 L1337.40,241.29 L1338.91,241.25 L1340.41,241.22 L1341.92,241.19 L1343.42,241.16 L1344.93,241.13 L1346.43,241.09 L1347.94,241.06 L1349.44,241.03 L1350.95,241.00 L1352.45,240.97 L1353.96,240.94 L1355.46,240.91 L1356.97,240.88 L1358.47,240.84 L1359.98,240.81 L1361.48,240.78 L1362.99,240.75 L1364.49,240.72 L1366.00,240.69 L1367.50,240.66 L1369.01,240.63 L1370.51,240.60 L1372.02,240.56 L1373.52,240.53 L1375.03,240.50 L1376.53,240.47 L1378.04,240.44 L1379.54,240.41 L1381.05,240.38 L1382.55,240.34 L1384.06,240.31 L1385.56,240.28 L1387.07,240.25 L1388.57,240.22 L1390.08,240.18 L1391.58,240.15 L1393.09,240.12 L1394.59,240.09 L1396.10,240.05 L1397.60,240.02 L1399.11,239.99 L1400.61,239.95 L1402.12,239.92 L1403.62,239.89 L1405.13,239.85 L1406.63,239.82 L1408.14,239.78 L1409.64,239.75 L1411.15,239.72 L1412.65,239.68 L1414.16,239.65 L1415.66,239.61 L1417.17,239.58 L1418.67,239.54 L1420.18,239.50 L1421.68,239.47 L1423.19,239.43 L1424.69,239.39 L1426.20,239.36 L1427.70,239.32 L1429.21,239.28 L1430.71,239.24 L1432.22,239.20 L1433.72,239.17 L1435.23,239.13 L1436.73,239.09 L1438.24,239.05 L1439.74,239.01 L1441.25,238.97 L1442.75,238.93 L1444.26,238.89 L1445.76,238.85 L1447.27,238.80 L1448.77,238.76 L1450.28,238.72 L1451.78,238.68 L1453.29,238.63 L1454.79,238.59 L1456.30,238.54 L1457.80,238.50" stroke="#000000" class="cv"/>
<path d="M951.70,413.90 L952.07,412.44 L952.41,410.98 L952.74,409.51 L953.06,408.04 L953.36,406.56 L953.64,405.08 L953.91,403.60 L954.16,402.12 L954.40,400.64 L954.63,399.15 L954.85,397.66 L955.05,396.17 L955.25,394.68 L955.43,393.18 L955.61,391.69 L955.78,390.19 L955.93,388.70 L956.09,387.20 L956.23,385.70 L956.37,384.20 L956.50,382.71 L956.63,381.21 L956.76,379.71 L956.88,378.21 L957.00,376.71 L957.12,375.21 L957.24,373.71 L957.35,372.21 L957.47,370.71 L957.59,369.21 L957.71,367.71 L957.83,366.21 L957.95,364.71 L958.07,363.21 L958.19,361.71 L958.32,360.21 L958.44,358.71 L958.57,357.21 L958.70,355.71 L958.83,354.21 L958.96,352.71 L959.09,351.21 L959.23,349.72 L959.36,348.22 L959.50,346.72 L959.64,345.22 L959.78,343.72 L959.93,342.23 L960.08,340.73 L960.23,339.23 L960.38,337.73 L960.54,336.24 L960.70,334.74 L960.86,333.25 L961.03,331.75 L961.21,330.26 L961.40,328.76 L961.59,327.27 L961.80,325.78 L962.01,324.29 L962.23,322.80 L962.47,321.32 L962.72,319.83 L962.98,318.35 L963.25,316.87 L963.54,315.40 L963.85,313.92 L964.17,312.45 L964.51,310.99 L964.86,309.52 L965.23,308.07 L965.62,306.61 L966.02,305.16 L966.44,303.72 L966.88,302.28 L967.34,300.84 L967.81,299.42 L968.30,297.99 L968.81,296.58 L969.33,295.17 L969.88,293.76 L970.45,292.37 L971.03,290.99 L971.64,289.61 L972.27,288.24 L972.92,286.89 L973.60,285.54 L974.30,284.21 L975.02,282.89 L975.77,281.59 L976.55,280.30 L977.35,279.03 L978.19,277.77 L979.04,276.54 L979.93,275.32 L980.85,274.13 L981.79,272.96 L982.77,271.82 L983.78,270.70 L984.81,269.61 L985.88,268.54 L986.97,267.51 L988.09,266.51 L989.24,265.53 L990.40,264.57 L991.59,263.65 L992.79,262.74 L994.01,261.86 L995.24,261.00 L996.49,260.16 L997.76,259.35 L999.03,258.55 L1000.32,257.76 L1001.61,257.00 L1002.91,256.25 L1004.22,255.51 L1005.54,254.78 L1006.87,254.07 L1008.20,253.36 L1009.53,252.67 L1010.87,251.98 L1012.21,251.30 L1013.56,250.63 L1014.91,249.96 L1016.26,249.31 L1017.62,248.66 L1018.98,248.02 L1020.35,247.39 L1021.72,246.77 L1023.09,246.16 L1024.47,245.56 L1025.86,244.96 L1027.24,244.38 L1028.64,243.81 L1030.03,243.26 L1031.44,242.71 L1032.84,242.17 L1034.25,241.65 L1035.67,241.13 L1037.08,240.63 L1038.50,240.13 L1039.93,239.65 L1041.36,239.18 L1042.79,238.71 L1044.22,238.26 L1045.66,237.82 L1047.10,237.39 L1048.55,236.96 L1049.99,236.55 L1051.44,236.14 L1052.89,235.75 L1054.35,235.36 L1055.81,234.98 L1057.26,234.61 L1058.72,234.25 L1060.19,233.90 L1061.65,233.56 L1063.12,233.22 L1064.59,232.89 L1066.06,232.57 L1067.53,232.26 L1069.00,231.95 L1070.48,231.65 L1071.95,231.36 L1073.43,231.07 L1074.91,230.80 L1076.39,230.52 L1077.87,230.26 L1079.35,230.00 L1080.84,229.75 L1082.32,229.50 L1083.80,229.26 L1085.29,229.02 L1086.78,228.79 L1088.27,228.57 L1089.75,228.35 L1091.24,228.14 L1092.73,227.93 L1094.22,227.72 L1095.72,227.52 L1097.21,227.33 L1098.70,227.14 L1100.19,226.95 L1101.69,226.77 L1103.18,226.59 L1104.68,226.42 L1106.17,226.25 L1107.67,226.08 L1109.16,225.92 L1110.66,225.76 L1112.16,225.61 L1113.65,225.45 L1115.15,225.30 L1116.65,225.16 L1118.14,225.01 L1119.64,224.87 L1121.14,224.74 L1122.64,224.60 L1124.14,224.47 L1125.64,224.33 L1127.14,224.21 L1128.64,224.08 L1130.13,223.95 L1131.63,223.83 L1133.13,223.71 L1134.63,223.59 L1136.13,223.47 L1137.63,223.36 L1139.13,223.24 L1140.64,223.13 L1142.14,223.02 L1143.64,222.91 L1145.14,222.80 L1146.64,222.69 L1148.14,222.59 L1149.64,222.49 L1151.14,222.38 L1152.64,222.28 L1154.14,222.18 L1155.65,222.08 L1157.15,221.99 L1158.65,221.89 L1160.15,221.79 L1161.65,221.70 L1163.15,221.61 L1164.66,221.51 L1166.16,221.42 L1167.66,221.33 L1169.16,221.24 L1170.66,221.15 L1172.17,221.06 L1173.67,220.97 L1175.17,220.89 L1176.67,220.80 L1178.17,220.71 L1179.68,220.62 L1181.18,220.54 L1182.68,220.45 L1184.18,220.37 L1185.68,220.28 L1187.19,220.20 L1188.69,220.11 L1190.19,220.03 L1191.69,219.94 L1193.20,219.86 L1194.70,219.77 L1196.20,219.69 L1197.70,219.61 L1199.21,219.53 L1200.71,219.44 L1202.21,219.36 L1203.71,219.28 L1205.22,219.20 L1206.72,219.12 L1208.22,219.04 L1209.72,218.96 L1211.23,218.88 L1212.73,218.80 L1214.23,218.72 L1215.73,218.64 L1217.24,218.56 L1218.74,218.48 L1220.24,218.40 L1221.74,218.32 L1223.25,218.25 L1224.75,218.17 L1226.25,218.09 L1227.75,218.01 L1229.26,217.94 L1230.76,217.86 L1232.26,217.79 L1233.77,217.71 L1235.27,217.63 L1236.77,217.56 L1238.27,217.48 L1239.78,217.41 L1241.28,217.34 L1242.78,217.26 L1244.28,217.19 L1245.79,217.11 L1247.29,217.04 L1248.79,216.97 L1250.30,216.90 L1251.80,216.82 L1253.30,216.75 L1254.81,216.68 L1256.31,216.61 L1257.81,216.54 L1259.31,216.47 L1260.82,216.40 L1262.32,216.33 L1263.82,216.26 L1265.33,216.19 L1266.83,216.12 L1268.33,216.05 L1269.84,215.98 L1271.34,215.91 L1272.84,215.84 L1274.34,215.78 L1275.85,215.71 L1277.35,215.64 L1278.85,215.57 L1280.36,215.51 L1281.86,215.44 L1283.36,215.37 L1284.87,215.31 L1286.37,215.24 L1287.87,215.18 L1289.38,215.11 L1290.88,215.05 L1292.38,214.98 L1293.89,214.92 L1295.39,214.85 L1296.89,214.79 L1298.40,214.73 L1299.90,214.66 L1301.40,214.60 L1302.91,214.54 L1304.41,214.48 L1305.91,214.41 L1307.42,214.35 L1308.92,214.29 L1310.42,214.23 L1311.93,214.17 L1313.43,214.11 L1314.93,214.05 L1316.44,213.99 L1317.94,213.92 L1319.44,213.87 L1320.95,213.81 L1322.45,213.75 L1323.95,213.69 L1325.46,213.63 L1326.96,213.57 L1328.47,213.51 L1329.97,213.45 L1331.47,213.40 L1332.98,213.34 L1334.48,213.28 L1335.98,213.22 L1337.49,213.17 L1338.99,213.11 L1340.49,213.05 L1342.00,213.00 L1343.50,212.94 L1345.00,212.89 L1346.51,212.83 L1348.01,212.78 L1349.52,212.72 L1351.02,212.67 L1352.52,212.61 L1354.03,212.56 L1355.53,212.51 L1357.03,212.45 L1358.54,212.40 L1360.04,212.35 L1361.55,212.29 L1363.05,212.24 L1364.55,212.19 L1366.06,212.14 L1367.56,212.09 L1369.06,212.03 L1370.57,211.98 L1372.07,211.93 L1373.58,211.88 L1375.08,211.83 L1376.58,211.78 L1378.09,211.73 L1379.59,211.68 L1381.09,211.63 L1382.60,211.58 L1384.10,211.53 L1385.61,211.48 L1387.11,211.43 L1388.61,211.39 L1390.12,211.34 L1391.62,211.29 L1393.13,211.24 L1394.63,211.19 L1396.13,211.15 L1397.64,211.10 L1399.14,211.05 L1400.65,211.01 L1402.15,210.96 L1403.65,210.91 L1405.16,210.87 L1406.66,210.82 L1408.17,210.78 L1409.67,210.73 L1411.17,210.69 L1412.68,210.64 L1414.18,210.60 L1415.69,210.55 L1417.19,210.51 L1418.69,210.47 L1420.20,210.42 L1421.70,210.38 L1423.21,210.33 L1424.71,210.29 L1426.21,210.25 L1427.72,210.21 L1429.22,210.16 L1430.73,210.12 L1432.23,210.08 L1433.73,210.04 L1435.24,210.00 L1436.74,209.96 L1438.25,209.91 L1439.75,209.87 L1441.25,209.83 L1442.76,209.79 L1444.26,209.75 L1445.77,209.71 L1447.27,209.67 L1448.78,209.63 L1450.28,209.59 L1451.78,209.55 L1453.29,209.52 L1454.79,209.48 L1456.30,209.44 L1457.80,209.40" stroke="#9400d3" class="cv"/>
<path d="M951.70,413.90 L952.52,412.94 L953.36,412.00 L954.21,411.07 L955.06,410.13 L955.90,409.19 L956.73,408.23 L957.53,407.25 L958.29,406.24 L959.00,405.20 L959.00,405.20 L959.42,403.75 L959.79,402.29 L960.11,400.82 L960.39,399.34 L960.64,397.85 L960.85,396.36 L961.04,394.86 L961.20,393.36 L961.35,391.86 L961.48,390.36 L961.60,388.86 L961.72,387.36 L961.84,385.85 L961.95,384.35 L962.07,382.85 L962.19,381.35 L962.31,379.84 L962.43,378.34 L962.55,376.84 L962.66,375.34 L962.78,373.83 L962.90,372.33 L963.01,370.83 L963.13,369.32 L963.25,367.82 L963.36,366.32 L963.48,364.82 L963.59,363.31 L963.70,361.81 L963.81,360.31 L963.92,358.80 L964.03,357.30 L964.14,355.80 L964.25,354.29 L964.37,352.79 L964.48,351.29 L964.60,349.78 L964.72,348.28 L964.84,346.78 L964.97,345.28 L965.10,343.78 L965.24,342.28 L965.38,340.77 L965.53,339.27 L965.69,337.78 L965.86,336.28 L966.03,334.78 L966.21,333.28 L966.40,331.79 L966.60,330.29 L966.81,328.80 L967.04,327.31 L967.27,325.82 L967.52,324.34 L967.78,322.85 L968.05,321.37 L968.34,319.89 L968.64,318.41 L968.95,316.94 L969.29,315.47 L969.63,314.00 L970.00,312.54 L970.38,311.08 L970.77,309.63 L971.19,308.18 L971.62,306.73 L972.07,305.29 L972.54,303.86 L973.04,302.44 L973.55,301.02 L974.08,299.61 L974.63,298.21 L975.20,296.81 L975.80,295.43 L976.41,294.05 L977.05,292.69 L977.72,291.33 L978.40,289.99 L979.11,288.66 L979.85,287.35 L980.61,286.05 L981.40,284.76 L982.21,283.49 L983.05,282.24 L983.92,281.01 L984.81,279.79 L985.73,278.60 L986.68,277.43 L987.66,276.28 L988.66,275.15 L989.69,274.05 L990.75,272.98 L991.84,271.94 L992.95,270.92 L994.09,269.94 L995.26,268.98 L996.44,268.05 L997.65,267.15 L998.88,266.28 L1000.13,265.43 L1001.39,264.60 L1002.66,263.79 L1003.94,263.00 L1005.24,262.23 L1006.54,261.47 L1007.85,260.73 L1009.17,260.00 L1010.49,259.27 L1011.82,258.56 L1013.15,257.85 L1014.48,257.15 L1015.82,256.46 L1017.17,255.78 L1018.51,255.10 L1019.86,254.43 L1021.22,253.76 L1022.57,253.11 L1023.93,252.45 L1025.29,251.81 L1026.65,251.16 L1028.02,250.53 L1029.39,249.89 L1030.76,249.26 L1032.13,248.63 L1033.50,248.01 L1034.87,247.38 L1036.24,246.76 L1037.62,246.14 L1038.99,245.51 L1040.36,244.89 L1041.73,244.26 L1043.10,243.64 L1044.48,243.02 L1045.85,242.40 L1047.23,241.79 L1048.61,241.19 L1050.00,240.61 L1051.40,240.04 L1052.80,239.49 L1054.21,238.95 L1055.63,238.45 L1057.06,237.96 L1058.49,237.50 L1059.93,237.06 L1061.38,236.64 L1062.83,236.24 L1064.29,235.86 L1065.76,235.49 L1067.22,235.15 L1068.69,234.82 L1070.17,234.50 L1071.64,234.20 L1073.12,233.90 L1074.60,233.63 L1076.09,233.36 L1077.57,233.09 L1079.06,232.84 L1080.54,232.59 L1082.03,232.35 L1083.52,232.11 L1085.01,231.88 L1086.50,231.65 L1087.99,231.42 L1089.48,231.19 L1090.97,230.96 L1092.46,230.73 L1093.95,230.51 L1095.44,230.29 L1096.93,230.07 L1098.42,229.85 L1099.91,229.64 L1101.41,229.42 L1102.90,229.21 L1104.39,229.00 L1105.88,228.79 L1107.38,228.58 L1108.87,228.38 L1110.36,228.17 L1111.86,227.97 L1113.35,227.77 L1114.84,227.57 L1116.34,227.37 L1117.83,227.18 L1119.33,226.98 L1120.82,226.79 L1122.32,226.60 L1123.81,226.41 L1125.31,226.23 L1126.81,226.04 L1128.30,225.86 L1129.80,225.68 L1131.30,225.50 L1132.79,225.32 L1134.29,225.14 L1135.79,224.96 L1137.28,224.79 L1138.78,224.62 L1140.28,224.45 L1141.78,224.28 L1143.27,224.11 L1144.77,223.94 L1146.27,223.78 L1147.77,223.61 L1149.27,223.45 L1150.77,223.29 L1152.26,223.13 L1153.76,222.98 L1155.26,222.82 L1156.76,222.66 L1158.26,222.51 L1159.76,222.36 L1161.26,222.21 L1162.76,222.06 L1164.26,221.91 L1165.76,221.77 L1167.26,221.62 L1168.76,221.48 L1170.26,221.34 L1171.76,221.20 L1173.26,221.06 L1174.77,220.92 L1176.27,220.78 L1177.77,220.65 L1179.27,220.51 L1180.77,220.38 L1182.27,220.25 L1183.77,220.12 L1185.28,219.99 L1186.78,219.86 L1188.28,219.74 L1189.78,219.61 L1191.28,219.49 L1192.79,219.37 L1194.29,219.24 L1195.79,219.12 L1197.29,219.00 L1198.80,218.89 L1200.30,218.77 L1201.80,218.65 L1203.31,218.54 L1204.81,218.43 L1206.31,218.31 L1207.81,218.20 L1209.32,218.09 L1210.82,217.99 L1212.33,217.88 L1213.83,217.77 L1215.33,217.67 L1216.84,217.56 L1218.34,217.46 L1219.84,217.36 L1221.35,217.25 L1222.85,217.15 L1224.36,217.05 L1225.86,216.96 L1227.36,216.86 L1228.87,216.76 L1230.37,216.67 L1231.88,216.57 L1233.38,216.48 L1234.89,216.39 L1236.39,216.30 L1237.89,216.21 L1239.40,216.12 L1240.90,216.03 L1242.41,215.94 L1243.91,215.85 L1245.42,215.77 L1246.92,215.68 L1248.43,215.60 L1249.93,215.51 L1251.44,215.43 L1252.94,215.35 L1254.45,215.27 L1255.95,215.19 L1257.46,215.11 L1258.96,215.03 L1260.47,214.95 L1261.98,214.88 L1263.48,214.80 L1264.99,214.72 L1266.49,214.65 L1268.00,214.57 L1269.50,214.50 L1271.01,214.43 L1272.51,214.36 L1274.02,214.29 L1275.53,214.22 L1277.03,214.15 L1278.54,214.08 L1280.04,214.01 L1281.55,213.94 L1283.05,213.87 L1284.56,213.81 L1286.07,213.74 L1287.57,213.68 L1289.08,213.61 L1290.58,213.55 L1292.09,213.48 L1293.60,213.42 L1295.10,213.36 L1296.61,213.30 L1298.11,213.24 L1299.62,213.18 L1301.13,213.12 L1302.63,213.06 L1304.14,213.00 L1305.64,212.94 L1307.15,212.88 L1308.66,212.82 L1310.16,212.77 L1311.67,212.71 L1313.18,212.65 L1314.68,212.60 L1316.19,212.54 L1317.69,212.49 L1319.20,212.43 L1320.71,212.38 L1322.21,212.32 L1323.72,212.27 L1325.23,212.22 L1326.73,212.17 L1328.24,212.11 L1329.75,212.06 L1331.25,212.01 L1332.76,211.96 L1334.26,211.91 L1335.77,211.86 L1337.28,211.81 L1338.78,211.76 L1340.29,211.71 L1341.80,211.66 L1343.30,211.61 L1344.81,211.56 L1346.32,211.51 L1347.82,211.46 L1349.33,211.41 L1350.84,211.37 L1352.34,211.32 L1353.85,211.27 L1355.36,211.22 L1356.86,211.18 L1358.37,211.13 L1359.88,211.08 L1361.38,211.03 L1362.89,210.99 L1364.40,210.94 L1365.90,210.89 L1367.41,210.85 L1368.92,210.80 L1370.42,210.76 L1371.93,210.71 L1373.44,210.66 L1374.94,210.62 L1376.45,210.57 L1377.96,210.53 L1379.46,210.48 L1380.97,210.43 L1382.48,210.39 L1383.98,210.34 L1385.49,210.30 L1387.00,210.25 L1388.50,210.21 L1390.01,210.16 L1391.51,210.11 L1393.02,210.07 L1394.53,210.02 L1396.03,209.98 L1397.54,209.93 L1399.05,209.88 L1400.55,209.84 L1402.06,209.79 L1403.57,209.74 L1405.07,209.70 L1406.58,209.65 L1408.09,209.60 L1409.59,209.55 L1411.10,209.51 L1412.61,209.46 L1414.11,209.41 L1415.62,209.36 L1417.13,209.32 L1418.63,209.27 L1420.14,209.22 L1421.65,209.17 L1423.15,209.12 L1424.66,209.07 L1426.17,209.02 L1427.67,208.97 L1429.18,208.92 L1430.69,208.87 L1432.19,208.82 L1433.70,208.77 L1435.20,208.72 L1436.71,208.67 L1438.22,208.61 L1439.72,208.56 L1441.23,208.51 L1442.74,208.45 L1444.24,208.40 L1445.75,208.35 L1447.26,208.29 L1448.76,208.24 L1450.27,208.18 L1451.77,208.13 L1453.28,208.07 L1454.79,208.01 L1456.29,207.96 L1457.80,207.90" stroke="#009e73" class="cv"/>
<line x1="950.9" y1="38.95" x2="1462.32" y2="38.95" stroke="#5e5e5e" stroke-width="2.2" stroke-linecap="square"/>
<line x1="950.9" y1="38.95" x2="950.9" y2="415.25" stroke="#797979" stroke-width="2.2" stroke-linecap="square"/>
<line x1="950.9" y1="415.25" x2="1462.32" y2="415.25" stroke="#555555" stroke-width="2.2" stroke-linecap="square"/>
<line x1="1462.32" y1="38.95" x2="1462.32" y2="415.25" stroke="#808080" stroke-width="2.2" stroke-linecap="square"/>
<line x1="1351.9" y1="70.8" x2="1429.5" y2="70.8" stroke="#000000" class="lg"/>
<line x1="1351.9" y1="106.3" x2="1429.5" y2="106.3" stroke="#9400d3" class="lg"/>
<line x1="1351.9" y1="141.6" x2="1429.5" y2="141.6" stroke="#009e73" class="lg"/>
</g>
<text x="310.87" y="79.30" font-size="32" textLength="58.18" lengthAdjust="spacingAndGlyphs">CEM</text>
<path d="M379.10,57.50 H387.80 V59.60 H384.85 V77.20 H387.80 V79.30 H379.10 V77.20 H382.05 V59.60 H379.10 Z" fill="#000"/>
<text x="397.38" y="79.30" font-size="32" textLength="130.48" lengthAdjust="spacingAndGlyphs">Reference</text>
<text x="261.98" y="114.90" font-size="32" textLength="32.67" lengthAdjust="spacingAndGlyphs">30</text>
<text x="304.75" y="114.90" font-size="32" textLength="30.98" lengthAdjust="spacingAndGlyphs">wt</text>
<text x="344.68" y="114.90" font-size="32" textLength="27.83" lengthAdjust="spacingAndGlyphs">%</text>
<text x="381.35" y="114.90" font-size="32" textLength="82.73" lengthAdjust="spacingAndGlyphs">quartz</text>
<text x="472.38" y="114.90" font-size="32" textLength="54.72" lengthAdjust="spacingAndGlyphs">filler</text>
<text x="359.87" y="150.10" font-size="32" textLength="32.88" lengthAdjust="spacingAndGlyphs">30</text>
<text x="403.05" y="150.10" font-size="32" textLength="30.78" lengthAdjust="spacingAndGlyphs">wt</text>
<text x="443.30" y="150.10" font-size="32" textLength="27.40" lengthAdjust="spacingAndGlyphs">%</text>
<text x="479.86" y="150.10" font-size="32" textLength="47.58" lengthAdjust="spacingAndGlyphs">SPL</text>
<text x="306.34" y="512.70" font-size="32" textLength="65.26" lengthAdjust="spacingAndGlyphs">Time</text>
<text x="379.11" y="512.70" font-size="32" textLength="96.37" lengthAdjust="spacingAndGlyphs">(hours)</text>
<text x="79.39" y="47.60" font-size="32" textLength="32.24" lengthAdjust="spacingAndGlyphs">10</text>
<text x="94.43" y="123.00" font-size="32" textLength="17.54" lengthAdjust="spacingAndGlyphs">8</text>
<text x="94.17" y="198.30" font-size="32" textLength="17.84" lengthAdjust="spacingAndGlyphs">6</text>
<text x="94.49" y="273.40" font-size="32" textLength="17.11" lengthAdjust="spacingAndGlyphs">4</text>
<text x="94.44" y="349.00" font-size="32" textLength="17.21" lengthAdjust="spacingAndGlyphs">2</text>
<text x="95.71" y="423.80" font-size="32" textLength="15.47" lengthAdjust="spacingAndGlyphs">0</text>
<text x="123.26" y="459.40" font-size="32" textLength="17.68" lengthAdjust="spacingAndGlyphs">0</text>
<text x="203.97" y="459.40" font-size="32" textLength="32.61" lengthAdjust="spacingAndGlyphs">12</text>
<text x="291.00" y="459.40" font-size="32" textLength="33.17" lengthAdjust="spacingAndGlyphs">24</text>
<text x="379.39" y="459.40" font-size="32" textLength="32.39" lengthAdjust="spacingAndGlyphs">36</text>
<text x="467.04" y="459.40" font-size="32" textLength="32.01" lengthAdjust="spacingAndGlyphs">48</text>
<text x="554.48" y="459.40" font-size="32" textLength="33.40" lengthAdjust="spacingAndGlyphs">60</text>
<text x="642.78" y="459.40" font-size="32" textLength="32.90" lengthAdjust="spacingAndGlyphs">72</text>
<text transform="translate(53.70,427.07) rotate(-90)" x="0" y="0" font-size="32" textLength="97.91" lengthAdjust="spacingAndGlyphs">Specific</text>
<text transform="translate(53.70,320.42) rotate(-90)" x="0" y="0" font-size="32" textLength="56.73" lengthAdjust="spacingAndGlyphs">heat</text>
<text transform="translate(53.70,253.01) rotate(-90)" x="0" y="0" font-size="32" textLength="51.74" lengthAdjust="spacingAndGlyphs">flow</text>
<text transform="translate(53.70,192.61) rotate(-90)" x="0" y="0" font-size="32" textLength="90.59" lengthAdjust="spacingAndGlyphs">(mW/g</text>
<text transform="translate(53.70,93.34) rotate(-90)" x="0" y="0" font-size="32" textLength="65.46" lengthAdjust="spacingAndGlyphs">OPC)</text>
<text class="cap" x="335.2" y="568.7"><tspan class="pr">(</tspan><tspan font-weight="bold">a</tspan><tspan class="pr">)</tspan></text>
<text x="1118.67" y="79.30" font-size="32" textLength="58.18" lengthAdjust="spacingAndGlyphs">CEM</text>
<path d="M1186.90,57.50 H1195.60 V59.60 H1192.65 V77.20 H1195.60 V79.30 H1186.90 V77.20 H1189.85 V59.60 H1186.90 Z" fill="#000"/>
<text x="1205.18" y="79.30" font-size="32" textLength="130.48" lengthAdjust="spacingAndGlyphs">Reference</text>
<text x="1069.78" y="114.90" font-size="32" textLength="32.67" lengthAdjust="spacingAndGlyphs">30</text>
<text x="1112.55" y="114.90" font-size="32" textLength="30.98" lengthAdjust="spacingAndGlyphs">wt</text>
<text x="1152.48" y="114.90" font-size="32" textLength="27.83" lengthAdjust="spacingAndGlyphs">%</text>
<text x="1189.15" y="114.90" font-size="32" textLength="82.73" lengthAdjust="spacingAndGlyphs">quartz</text>
<text x="1280.18" y="114.90" font-size="32" textLength="54.72" lengthAdjust="spacingAndGlyphs">filler</text>
<text x="1167.67" y="150.10" font-size="32" textLength="32.88" lengthAdjust="spacingAndGlyphs">30</text>
<text x="1210.85" y="150.10" font-size="32" textLength="30.78" lengthAdjust="spacingAndGlyphs">wt</text>
<text x="1251.10" y="150.10" font-size="32" textLength="27.40" lengthAdjust="spacingAndGlyphs">%</text>
<text x="1287.66" y="150.10" font-size="32" textLength="47.58" lengthAdjust="spacingAndGlyphs">SPL</text>
<text x="1128.34" y="512.80" font-size="32" textLength="64.96" lengthAdjust="spacingAndGlyphs">Time</text>
<text x="1201.45" y="512.80" font-size="32" textLength="83.01" lengthAdjust="spacingAndGlyphs">(days)</text>
<text x="917.79" y="424.25" font-size="32" textLength="17.22" lengthAdjust="spacingAndGlyphs">0</text>
<text x="886.17" y="377.21" font-size="32" textLength="48.77" lengthAdjust="spacingAndGlyphs">100</text>
<text x="885.72" y="330.18" font-size="32" textLength="49.24" lengthAdjust="spacingAndGlyphs">200</text>
<text x="886.08" y="283.14" font-size="32" textLength="48.86" lengthAdjust="spacingAndGlyphs">300</text>
<text x="886.53" y="236.10" font-size="32" textLength="48.40" lengthAdjust="spacingAndGlyphs">400</text>
<text x="886.03" y="189.06" font-size="32" textLength="48.92" lengthAdjust="spacingAndGlyphs">500</text>
<text x="885.70" y="142.02" font-size="32" textLength="49.25" lengthAdjust="spacingAndGlyphs">600</text>
<text x="885.69" y="94.99" font-size="32" textLength="49.27" lengthAdjust="spacingAndGlyphs">700</text>
<text x="885.92" y="47.95" font-size="32" textLength="49.02" lengthAdjust="spacingAndGlyphs">800</text>
<text x="946.75" y="459.40" font-size="32" textLength="17.80" lengthAdjust="spacingAndGlyphs">0</text>
<text x="1074.88" y="459.40" font-size="32" textLength="17.62" lengthAdjust="spacingAndGlyphs">7</text>
<text x="1194.62" y="459.40" font-size="32" textLength="33.36" lengthAdjust="spacingAndGlyphs">14</text>
<text x="1322.16" y="459.40" font-size="32" textLength="31.84" lengthAdjust="spacingAndGlyphs">21</text>
<text x="1449.57" y="459.40" font-size="32" textLength="33.85" lengthAdjust="spacingAndGlyphs">28</text>
<text transform="translate(860.90,376.17) rotate(-90)" x="0" y="0" font-size="32" textLength="98.11" lengthAdjust="spacingAndGlyphs">Specific</text>
<text transform="translate(860.90,269.85) rotate(-90)" x="0" y="0" font-size="32" textLength="57.67" lengthAdjust="spacingAndGlyphs">heat</text>
<text transform="translate(860.90,203.82) rotate(-90)" x="0" y="0" font-size="32" textLength="51.72" lengthAdjust="spacingAndGlyphs">(J/g</text>
<text transform="translate(860.90,142.62) rotate(-90)" x="0" y="0" font-size="32" textLength="64.52" lengthAdjust="spacingAndGlyphs">OPC)</text>
<text class="cap" x="1141.2" y="568.7"><tspan class="pr">(</tspan><tspan font-weight="bold">b</tspan><tspan class="pr">)</tspan></text>
</svg>
</body></html>
